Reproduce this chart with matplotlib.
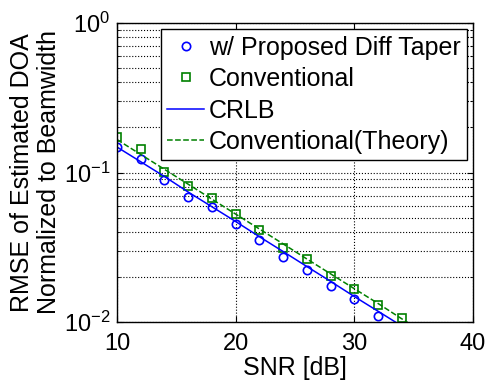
import matplotlib
matplotlib.use('Agg')
import matplotlib.pyplot as plt
import numpy as np
from matplotlib.ticker import LogLocator, FixedLocator

plt.rcParams['font.family'] = ['Liberation Sans', 'DejaVu Sans']
plt.rcParams['mathtext.default'] = 'regular'

# SNR points [dB]
snr_sim = [10, 12, 14, 16, 18, 20, 22, 24, 26, 28, 30, 32, 34]

# simulated RMSE (normalized to beamwidth)
proposed = [0.1486, 0.1225, 0.0888, 0.0683, 0.0585, 0.0453, 0.0354,
            0.0274, 0.0222, 0.0175, 0.0143, 0.0109, 0.0088]
conventional = [0.1734, 0.1436, 0.1007, 0.0816, 0.0676, 0.0526, 0.0411,
                0.0315, 0.0262, 0.0204, 0.0166, 0.0130, 0.0106]

# theory curves
snr_th = [10, 12, 14, 16, 18, 20, 22, 24, 26, 28, 30, 32, 34, 36]
crlb = [0.148, 0.118, 0.094, 0.074, 0.059, 0.047, 0.0372, 0.0296,
        0.0235, 0.0187, 0.0148, 0.0118, 0.0094, 0.0075]
conv_theory = [0.166, 0.132, 0.105, 0.0835, 0.0663, 0.0527, 0.0419,
               0.0333, 0.0264, 0.021, 0.0167, 0.0133, 0.0105, 0.0084]

my_dpi = 100
fig = plt.figure(figsize=(487/my_dpi, 386/my_dpi), dpi=my_dpi)
ax = fig.add_axes([117/487, 1 - 322/386, (473-117)/487, (322-23)/386])

ax.plot(snr_sim[:12], proposed[:12], 'o', color='blue', mfc='none', ms=6, mew=1.2,
        label='w/ Proposed Diff Taper')
ax.plot(snr_sim, conventional, 's', color='green', mfc='none', ms=5.5, mew=1.2,
        label='Conventional')
ax.plot(snr_th, crlb, '-', color='blue', lw=1.1, label='CRLB')
ax.plot(snr_th, conv_theory, '--', color='green', lw=1.1, label='Conventional(Theory)')

ax.set_yscale('log')
ax.set_xlim(10, 40)
ax.set_ylim(1e-2, 1e0)
ax.xaxis.set_major_locator(FixedLocator([10, 20, 30, 40]))
ax.yaxis.set_major_locator(LogLocator(base=10, numticks=5))
ax.yaxis.set_minor_locator(LogLocator(base=10, subs=np.arange(2, 10), numticks=20))

ax.grid(which='major', color='black', linestyle=':', linewidth=0.8)
ax.grid(which='minor', axis='y', color='black', linestyle=':', linewidth=0.8)

ax.tick_params(which='both', direction='in', top=True, right=True, labelsize=17)
ax.tick_params(which='major', length=4)
ax.tick_params(which='minor', length=2)
ax.tick_params(axis='x', pad=8)
ax.tick_params(axis='y', pad=5)
for s in ax.spines.values():
    s.set_linewidth(1.0)

ax.set_xlabel('SNR [dB]', fontsize=18, labelpad=1)
ax.set_ylabel('RMSE of Estimated DOA\nNormalized to Beamwidth', fontsize=18, labelpad=2,
              linespacing=1.15)

leg = ax.legend(loc='upper right', fontsize=18, frameon=True, fancybox=False,
                edgecolor='black', framealpha=1, handlelength=1.45, handletextpad=0.2,
                borderpad=0.25, labelspacing=0.3, borderaxespad=0.25)
leg.get_frame().set_linewidth(1.0)

plt.savefig('out.png', dpi=my_dpi)
plt.close()
